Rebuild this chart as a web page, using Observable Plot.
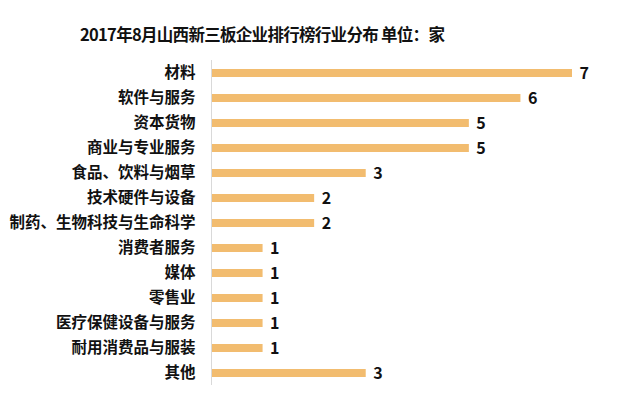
<!DOCTYPE html>
<html>
<head>
<meta charset="utf-8">
<script src="https://cdn.jsdelivr.net/npm/d3@7"></script>
<script src="https://cdn.jsdelivr.net/npm/@observablehq/plot@0.6"></script>
<style>
  html, body { margin: 0; padding: 0; background: #fff; }
  #title { height: 55px; line-height: 68px; padding-left: 80px; font-family: "Noto Sans CJK SC", sans-serif; font-weight: bold; font-size: 16.5px; letter-spacing: -0.7px; color: #111; white-space: nowrap; overflow: visible; }
  svg { display: block; }
</style>
</head>
<body>
<div id="title">2017年8月山西新三板企业排行榜行业分布 单位：家</div>
<div id="chart"></div>
<script>
const categories = ["材料", "软件与服务", "资本货物", "商业与专业服务", "食品、饮料与烟草", "技术硬件与设备", "制药、生物科技与生命科学", "消费者服务", "媒体", "零售业", "医疗保健设备与服务", "耐用消费品与服装", "其他"];
const counts = [7, 6, 5, 5, 3, 2, 2, 1, 1, 1, 1, 1, 3];

const data = categories.map((c, i) => ({ category: c, count: counts[i] }));
const font = '"Noto Sans CJK SC", sans-serif';

const chart = Plot.plot({
  width: 640,
  height: 345,
  marginLeft: 211,
  marginRight: 68,
  marginTop: 5,
  marginBottom: 15,
  style: { fontFamily: font, background: "#fff" },
  x: { domain: [0, 7], axis: null },
  y: { domain: categories, paddingInner: 0.68, paddingOuter: 0.34, label: null },
  marks: [
    Plot.barX(data, { x: "count", y: "category", fill: "#F2BC6F", insetLeft: 1 }),
    Plot.ruleX([0], { stroke: "#d9d9d9", strokeWidth: 1 }),
    Plot.axisY({ tickSize: 0, tickPadding: 16, fontSize: 15.5, fontWeight: "bold", fill: "#111", label: null }),
    Plot.text(data, { x: "count", y: "category", text: d => String(d.count), textAnchor: "start", dx: 7, fontSize: 16, fontWeight: "bold", fill: "#111" })
  ]
});
document.getElementById("chart").appendChild(chart);
</script>
</body>
</html>
